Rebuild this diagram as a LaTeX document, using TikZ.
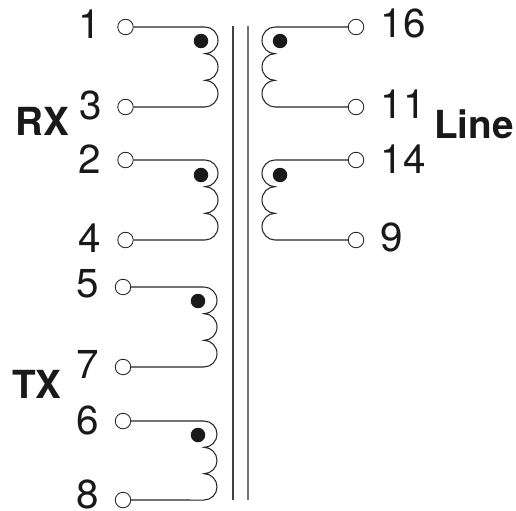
\documentclass[tikz,border=0pt]{standalone}
\usepackage{fontspec}
\setmainfont{TeX Gyre Heros}
\usetikzlibrary{positioning}
% one winding, bulging right or left: start, end, knee, arc height
\newcommand{\coilright}[4]{
\draw [wire] (#1) -- (#1 -| #3) arc [start angle=90,end angle=-90,x radius=13,y radius=#4]
 arc [start angle=90,end angle=-90,x radius=13,y radius=#4]
 arc [start angle=90,end angle=-90,x radius=13,y radius=#4] -- (#2);
}
\newcommand{\coilleft}[4]{
\draw [wire] (#1) -- (#1 -| #3) arc [start angle=90,end angle=270,x radius=13,y radius=#4]
 arc [start angle=90,end angle=270,x radius=13,y radius=#4]
 arc [start angle=90,end angle=270,x radius=13,y radius=#4] -- (#2);
}
\begin{document}
\begin{tikzpicture}[x=0.02cm,y=0.02cm]
\tikzstyle{wire}=[draw=black!85,line width=0.6pt]
\tikzstyle{core}=[draw=black!75,line width=0.7pt]
\tikzstyle{terminal}=[draw=black!85,circle,fill=white,line width=0.5pt,minimum size=0.31cm,inner sep=0pt]
\tikzstyle{blackdot}=[circle,fill=black!90,minimum size=0.29cm,inner sep=0pt]
\tikzstyle{pin}=[font=\fontsize{23}{27}\selectfont,text=black!90,inner sep=0pt]
\tikzstyle{group}=[font=\fontsize{22}{26}\bfseries\selectfont,text=black!90,inner sep=0pt]
\useasboundingbox (0,0) rectangle (516,-510);
\coordinate (ka) at (205,0);
\coordinate (kb) at (204,0);
\coordinate (kc) at (275,0);
% core
\coordinate (c1t) at (233,-26);
\coordinate (c1b) at (233,-500);
\coordinate (c2t) at (248,-26);
\coordinate (c2b) at (248,-500);
\draw [core] (c1t) -- (c1b);
\draw [core,draw=black!55] (c2t) -- (c2b);
% terminals
\node [terminal] at (125.5,-27) (t1) {};
\node [terminal] at (125.5,-107) (t3) {};
\node [terminal] at (125.5,-160) (t2) {};
\node [terminal] at (125.5,-240) (t4) {};
\node [terminal] at (123,-287) (t5) {};
\node [terminal] at (123,-367) (t7) {};
\node [terminal] at (123,-421) (t6) {};
\node [terminal] at (123,-500) (t8) {};
\node [terminal] at (356,-27) (t16) {};
\node [terminal] at (356,-107) (t11) {};
\node [terminal] at (356,-160) (t14) {};
\node [terminal] at (356,-240) (t9) {};
% windings
\coilright{t1}{t3}{ka}{13.33}
\coilright{t2}{t4}{ka}{13.33}
\coilright{t5}{t7}{kb}{13.33}
\coilright{t6}{t8}{kb}{13.17}
\coilleft{t16}{t11}{kc}{13.33}
\coilleft{t14}{t9}{kc}{13.33}
% phase dots
\node [blackdot] at (201,-41) (d1) {};
\node [blackdot] at (201,-175) (d2) {};
\node [blackdot] at (198,-301) (d5) {};
\node [blackdot] at (198,-435) (d6) {};
\node [blackdot] at (280,-41) (d16) {};
\node [blackdot] at (280,-175) (d14) {};
% labels
\node [pin] at (90,-24) (n1) {1};
\node [pin] at (91,-105) (n3) {3};
\node [pin] at (90,-159) (n2) {2};
\node [pin] at (90,-238) (n4) {4};
\node [pin] at (88,-284) (n5) {5};
\node [pin] at (88,-364) (n7) {7};
\node [pin] at (88,-420) (n6) {6};
\node [pin] at (88,-494.5) (n8) {8};
\node [pin] at (403,-23) (n16) {16};
\node [pin] at (403,-104) (n11) {11};
\node [pin] at (403,-159) (n14) {14};
\node [pin] at (392,-237.5) (n9) {9};
\node [group] at (42,-121) (rx) {RX};
\node [group] at (37,-384) (tx) {TX};
\node [group] at (474,-124) (line) {Line};
\end{tikzpicture}
\end{document}
